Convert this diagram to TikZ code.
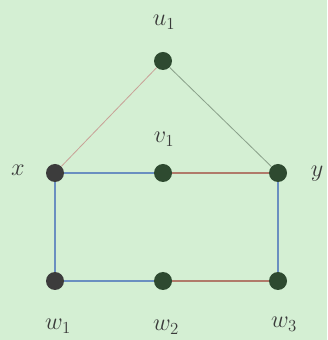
\documentclass[tikz,border=0pt]{standalone}
\usepackage{amsmath,amssymb}
\usepackage{xcolor}
\usepackage{tikz}
\usetikzlibrary{positioning,calc}

\definecolor{bgGreen}{HTML}{D4EFD3}
\definecolor{vertGreen}{HTML}{2E4A30}
\definecolor{vertGray}{HTML}{3C3C3C}
\definecolor{edgeBlue}{HTML}{6A8FC0}
\definecolor{edgeRed}{HTML}{B07A6A}
\definecolor{edgeGray}{HTML}{8AA08A}
\definecolor{labelGray}{HTML}{3A3A3A}

\begin{document}
\begin{tikzpicture}[x=0.03cm, y=0.03cm,
    vert/.style={circle, fill=vertGreen, inner sep=0pt, minimum size=0.54cm},
    grayvert/.style={vert, fill=vertGray},
    lab/.style={font=\fontsize{21}{24}\selectfont, text=labelGray},
    blueedge/.style={edgeBlue, line width=0.9pt},
    redge/.style={edgeRed, line width=0.9pt}]
  % Background
  \fill[bgGreen] (0, 0) rectangle (327, 340);
  \useasboundingbox (0, 0) rectangle (327, 340);

  % Vertices
  \node[vert] (u1) at (163, 279) {};
  \node[vert] (v1) at (163, 167) {};
  \node[grayvert] (x) at (55, 167) {};
  \node[vert] (y) at (278, 167) {};
  \node[grayvert] (w1) at (55, 59) {};
  \node[vert] (w2) at (163, 59) {};
  \node[vert] (w3) at (278, 59) {};

  % Vertex labels
  \node[lab] (lu1) at (164, 318) {$u_1$};
  \node[lab] (lv1) at (164, 201) {$v_1$};
  \node[lab] (lx) at (18, 170) {$x$};
  \node[lab] (ly) at (317, 166) {$y$};
  \node[lab] (lw1) at (58, 14) {$w_1$};
  \node[lab] (lw2) at (166, 13) {$w_2$};
  \node[lab] (lw3) at (284, 16) {$w_3$};

  % Edges
  \draw[edgeRed!70, line width=0.7pt] (x) -- (u1);
  \draw[edgeGray, line width=0.7pt] (u1) -- (y);
  \draw[blueedge] (x) -- (v1);
  \draw[redge] (v1) -- (y);
  \draw[blueedge] (x) -- (w1);
  \draw[blueedge] (w1) -- (w2);
  \draw[redge] (w2) -- (w3);
  \draw[blueedge] (y) -- (w3);
\end{tikzpicture}
\end{document}
